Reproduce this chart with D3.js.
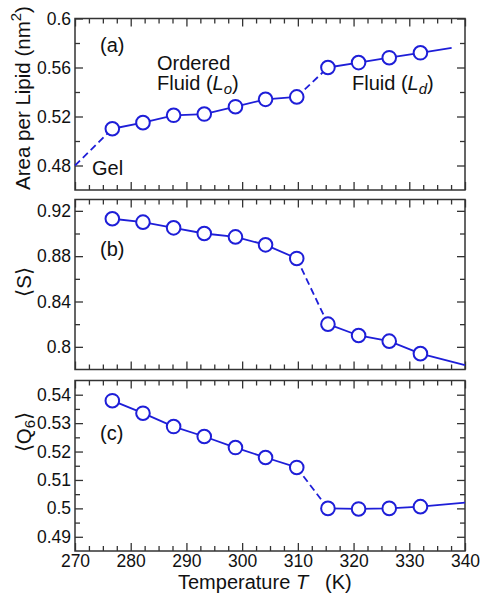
<!DOCTYPE html>
<html>
<head>
<meta charset="utf-8">
<script src="https://cdn.jsdelivr.net/npm/d3@7"></script>
<style>
  html, body { margin: 0; padding: 0; background: #fff; }
  svg { display: block; }
  text { font-family: "Liberation Sans", Arial, Helvetica, sans-serif; fill: #111; }
</style>
</head>
<body>
<svg id="chart" width="489" height="601"></svg>
<script>
// ---- data ----
const temperature = [276.7, 282.2, 287.7, 293.2, 298.8, 304.2, 309.8, 315.4, 320.9, 326.4, 332.0];
const areaPerLipid = [0.510, 0.515, 0.521, 0.522, 0.528, 0.534, 0.536, 0.560, 0.564, 0.568, 0.572];
const orderS = [0.913, 0.910, 0.905, 0.900, 0.897, 0.890, 0.878, 0.820, 0.810, 0.805, 0.794];
const orderQ6 = [0.5379, 0.5335, 0.5288, 0.5253, 0.5214, 0.5179, 0.5144, 0.5000, 0.4998, 0.5000, 0.5006];
const areaStart = [270, 0.48];
const areaEnd = [337.6, 0.576];
const sEnd = [340, 0.7838];
const q6End = [340, 0.502];
const xTicks = [270, 280, 290, 300, 310, 320, 330, 340];
const yTicksA = [0.48, 0.52, 0.56, 0.6];
const yTicksB = [0.8, 0.84, 0.88, 0.92];
const yTicksC = [0.49, 0.5, 0.51, 0.52, 0.53, 0.54];

const svg = d3.select("#chart");
const left = 75, right = 465;
const blue = "#1e1ed8";
const frameColor = "#333";

const x = d3.scaleLinear().domain([270, 340]).range([left, right]);
const xMinor = d3.range(270, 340.01, 2.5).filter(v => Math.abs(v % 10) > 1e-6);

function fmt(v) { return String(+v.toFixed(3)); }

const panels = [
  { top: 18.5, bottom: 190, domain: [0.46, 0.6], majors: yTicksA, minorStep: 0.02, values: areaPerLipid, start: areaStart, end: areaEnd },
  { top: 199.5, bottom: 369.5, domain: [0.78, 0.93], majors: yTicksB, minorStep: 0.02, values: orderS, start: null, end: sEnd },
  { top: 380.5, bottom: 551, domain: [0.485, 0.545], majors: yTicksC, minorStep: 0.005, values: orderQ6, start: null, end: q6End }
];

panels.forEach((p, i) => {
  const y = d3.scaleLinear().domain(p.domain).range([p.bottom, p.top]);
  const g = svg.append("g");
  const yMinor = [];
  for (let v = p.domain[0]; v <= p.domain[1] + 1e-9; v += p.minorStep) {
    const r = +v.toFixed(4);
    if (!p.majors.some(m => Math.abs(m - r) < 1e-6) && r > p.domain[0] + 1e-9 && r < p.domain[1] - 1e-9) yMinor.push(r);
  }
  const H = p.bottom - p.top;
  const W = right - left;

  function styleAxis(sel) {
    sel.select(".domain").remove();
    sel.selectAll("line").attr("stroke", frameColor).attr("stroke-width", 1.3);
  }
  g.append("g").attr("transform", `translate(${left},0)`)
    .call(d3.axisLeft(y).tickValues(p.majors).tickSize(-8).tickPadding(4).tickFormat(fmt))
    .call(styleAxis)
    .call(s => s.selectAll("text").attr("font-size", 17.5).attr("fill", "#111").attr("font-family", "Liberation Sans, Arial, sans-serif"));
  g.append("g").attr("transform", `translate(${left},0)`)
    .call(d3.axisLeft(y).tickValues(yMinor).tickSize(-5).tickFormat(""))
    .call(styleAxis);
  g.append("g").attr("transform", `translate(${right},0)`)
    .call(d3.axisRight(y).tickValues(p.majors).tickSize(-8).tickFormat(""))
    .call(styleAxis);
  g.append("g").attr("transform", `translate(${right},0)`)
    .call(d3.axisRight(y).tickValues(yMinor).tickSize(-5).tickFormat(""))
    .call(styleAxis);
  const bottomAxis = g.append("g").attr("transform", `translate(0,${p.bottom})`)
    .call(d3.axisBottom(x).tickValues(xTicks).tickSize(-8).tickPadding(4).tickFormat(i === 2 ? d3.format("d") : ""))
    .call(styleAxis);
  bottomAxis.selectAll("text").attr("font-size", 17.5).attr("fill", "#111").attr("font-family", "Liberation Sans, Arial, sans-serif");
  g.append("g").attr("transform", `translate(0,${p.bottom})`)
    .call(d3.axisBottom(x).tickValues(xMinor).tickSize(-5).tickFormat(""))
    .call(styleAxis);
  g.append("g").attr("transform", `translate(0,${p.top})`)
    .call(d3.axisTop(x).tickValues(xTicks).tickSize(-8).tickFormat(""))
    .call(styleAxis);
  g.append("g").attr("transform", `translate(0,${p.top})`)
    .call(d3.axisTop(x).tickValues(xMinor).tickSize(-5).tickFormat(""))
    .call(styleAxis);
  g.append("rect").attr("x", left).attr("y", p.top).attr("width", W).attr("height", H)
    .attr("fill", "none").attr("stroke", frameColor).attr("stroke-width", 1.5);

  const pts = temperature.map((t, k) => [t, p.values[k]]);
  const line = d3.line().x(d => x(d[0])).y(d => y(d[1]));
  const lg = g.append("g").attr("fill", "none").attr("stroke", blue).attr("stroke-width", 1.8);
  if (p.start) lg.append("path").attr("d", line([p.start, pts[0]])).attr("stroke-dasharray", "7,4");
  lg.append("path").attr("d", line(pts.slice(0, 7)));
  lg.append("path").attr("d", line([pts[6], pts[7]])).attr("stroke-dasharray", "7,4");
  lg.append("path").attr("d", line(pts.slice(7).concat([p.end])));
  g.append("g").selectAll("circle").data(pts).join("circle")
    .attr("cx", d => x(d[0])).attr("cy", d => y(d[1])).attr("r", 6.8)
    .attr("fill", "#fff").attr("stroke", blue).attr("stroke-width", 2);
});

// ---- texts ----
const fs = 20;
function txt(xp, yp, size) {
  return svg.append("text").attr("x", xp).attr("y", yp).attr("font-size", size || fs);
}
txt(100, 52).text("(a)");
txt(100, 256).text("(b)");
txt(100, 440).text("(c)");
txt(157, 70).text("Ordered");
const fl = txt(157, 90);
fl.append("tspan").text("Fluid (");
fl.append("tspan").attr("font-style", "italic").text("L");
fl.append("tspan").attr("font-style", "italic").attr("font-size", 15).attr("dy", 4).text("o");
fl.append("tspan").attr("dy", -4).text(")");
const fd = txt(352, 90);
fd.append("tspan").text("Fluid (");
fd.append("tspan").attr("font-style", "italic").text("L");
fd.append("tspan").attr("font-style", "italic").attr("font-size", 15).attr("dy", 4).text("d");
fd.append("tspan").attr("dy", -4).text(")");
txt(92, 175).text("Gel");

// axis titles
const ta = svg.append("text").attr("transform", "translate(30,98) rotate(-90)")
  .attr("text-anchor", "middle").attr("font-size", 20.5);
ta.append("tspan").text("Area per Lipid  (nm");
ta.append("tspan").attr("font-size", 15).attr("dy", -9).text("2");
ta.append("tspan").attr("dy", 9).text(")");

svg.append("text").attr("transform", "translate(31,282) rotate(-90)")
  .attr("text-anchor", "middle").attr("font-size", 20.5).text("\u27E8S\u27E9");

const tq = svg.append("text").attr("transform", "translate(31,432) rotate(-90)")
  .attr("text-anchor", "middle").attr("font-size", 20.5);
tq.append("tspan").text("\u27E8Q");
tq.append("tspan").attr("font-size", 15).attr("dy", 4).text("6");
tq.append("tspan").attr("dy", -4).text("\u27E9");

const tx = svg.append("text").attr("y", 589).attr("font-size", 20);
tx.append("tspan").attr("x", 178).text("Temperature");
tx.append("tspan").attr("x", 296).attr("font-style", "italic").text("T");
tx.append("tspan").attr("x", 325).text("(K)");
</script>
</body>
</html>
